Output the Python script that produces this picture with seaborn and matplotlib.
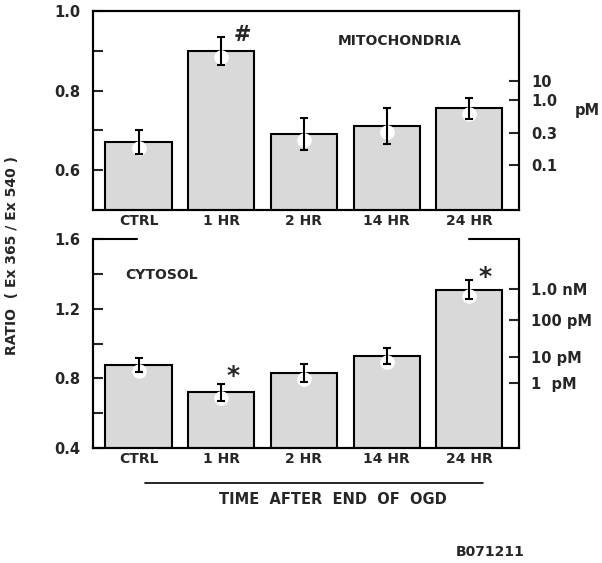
import seaborn as sns
import matplotlib.pyplot as plt
from matplotlib.lines import Line2D
from matplotlib.transforms import offset_copy

# data
times = ["CTRL", "1 HR", "2 HR", "14 HR", "24 HR"]
mito_ratio = [0.67, 0.90, 0.69, 0.71, 0.755]
mito_err = [0.03, 0.035, 0.04, 0.045, 0.027]
cyto_ratio = [0.875, 0.72, 0.83, 0.93, 1.31]
cyto_err = [0.04, 0.05, 0.05, 0.045, 0.055]

# right-hand calibration scales (ratio position -> concentration label)
mito_cal_pos = [0.825, 0.777, 0.694, 0.613]
mito_cal_lab = ["10", "1.0", "0.3", "0.1"]
cyto_cal_pos = [1.314, 1.137, 0.92, 0.771]
cyto_cal_lab = ["1.0 nM", "100 pM", "10 pM", "1  pM"]

sns.set_theme(style="ticks")
plt.rcParams["font.family"] = ["DejaVu Sans"]
plt.rcParams["font.weight"] = "bold"
plt.rcParams["axes.linewidth"] = 1.5

fig = plt.figure(figsize=(6.02, 5.63), dpi=100)
ax1 = fig.add_axes([0.1545, 0.627, 0.7076, 0.3535])
ax2 = fig.add_axes([0.1545, 0.2043, 0.7076, 0.371])

bar_kw = dict(color="#d9d9d9", edgecolor="black", linewidth=1.5,
              saturation=1, width=0.8)


def draw_panel(ax, vals, errs, ylim, major, minor, cal_pos, cal_lab):
    sns.barplot(x=times, y=vals, ax=ax, **bar_kw)
    xs = range(len(vals))
    # white halo just under the top of each bar
    halo = offset_copy(ax.transData, fig=fig, y=-6, units="dots")
    ax.scatter(xs, vals, s=110, color="white", zorder=3, linewidths=0,
               transform=halo)
    ax.errorbar(xs, vals, yerr=errs, fmt="none", ecolor="black",
                elinewidth=1.5, capsize=3, capthick=1.5, zorder=4)
    ax.set_xlim(-0.55, 4.6)
    ax.set_ylim(*ylim)
    ax.set_yticks(major)
    ax.set_yticks(minor, minor=True)
    ax.yaxis.set_major_formatter(plt.FormatStrFormatter("%.1f"))
    ax.tick_params(axis="y", direction="in", length=7, width=1.5,
                   labelsize=10.5, pad=9)
    ax.tick_params(axis="y", which="minor", direction="in", length=7,
                   width=1.5)
    ax.tick_params(axis="x", length=0, labelsize=10, pad=3)
    ax.set_ylabel("")
    for s in ax.spines.values():
        s.set_linewidth(1.5)
        s.set_color("black")
    tw = ax.twinx()
    tw.set_ylim(*ylim)
    tw.set_yticks(cal_pos)
    tw.set_yticklabels(cal_lab)
    tw.tick_params(axis="y", direction="in", length=7, width=1.5,
                   labelsize=10.5, pad=9)
    for s in tw.spines.values():
        s.set_linewidth(1.5)
        s.set_color("black")
    return tw


tw1 = draw_panel(ax1, mito_ratio, mito_err, (0.5, 1.0), [0.6, 0.8, 1.0],
                 [0.7, 0.9], mito_cal_pos, mito_cal_lab)
tw2 = draw_panel(ax2, cyto_ratio, cyto_err, (0.4, 1.6), [0.4, 0.8, 1.2, 1.6],
                 [0.6, 1.0, 1.4], cyto_cal_pos, cyto_cal_lab)

# cytosol panel: top frame is broken in the middle
ax2.spines["top"].set_visible(False)
tw2.spines["top"].set_visible(False)
for x0, x1 in [(0.0, 0.103), (0.883, 1.0)]:
    ax2.add_line(Line2D([x0, x1], [1, 1], transform=ax2.transAxes,
                        color="black", lw=1.5, clip_on=False))

tw1.text(1.13, 0.5, "pM", transform=tw1.transAxes, ha="left", va="center",
         fontsize=10.5)
ax1.text(0.72, 0.85, "MITOCHONDRIA", transform=ax1.transAxes, ha="center",
         va="center", fontsize=10)
ax2.text(0.16, 0.83, "CYTOSOL", transform=ax2.transAxes, ha="center",
         va="center", fontsize=10)

# significance marks
ax1.text(1.25, 0.94, "#", ha="center", va="center", fontsize=15)
ax2.text(1.14, 0.815, "*", ha="center", va="center", fontsize=18)
ax2.text(4.19, 1.385, "*", ha="center", va="center", fontsize=18)

fig.text(0.02, 0.547, "RATIO  ( Ex 365 / Ex 540 )", rotation=90,
         ha="center", va="center", fontsize=10)
fig.add_artist(Line2D([145 / 602, 483 / 602], [1 - 483 / 563, 1 - 483 / 563],
                      color="black", lw=1.2))
fig.text(333 / 602, 1 - 499 / 563, "TIME  AFTER  END  OF  OGD",
         ha="center", va="center", fontsize=10.5)
fig.text(490 / 602, 1 - 552 / 563, "B071211", ha="center", va="center",
         fontsize=10)

fig.savefig("out.png", dpi=100)
